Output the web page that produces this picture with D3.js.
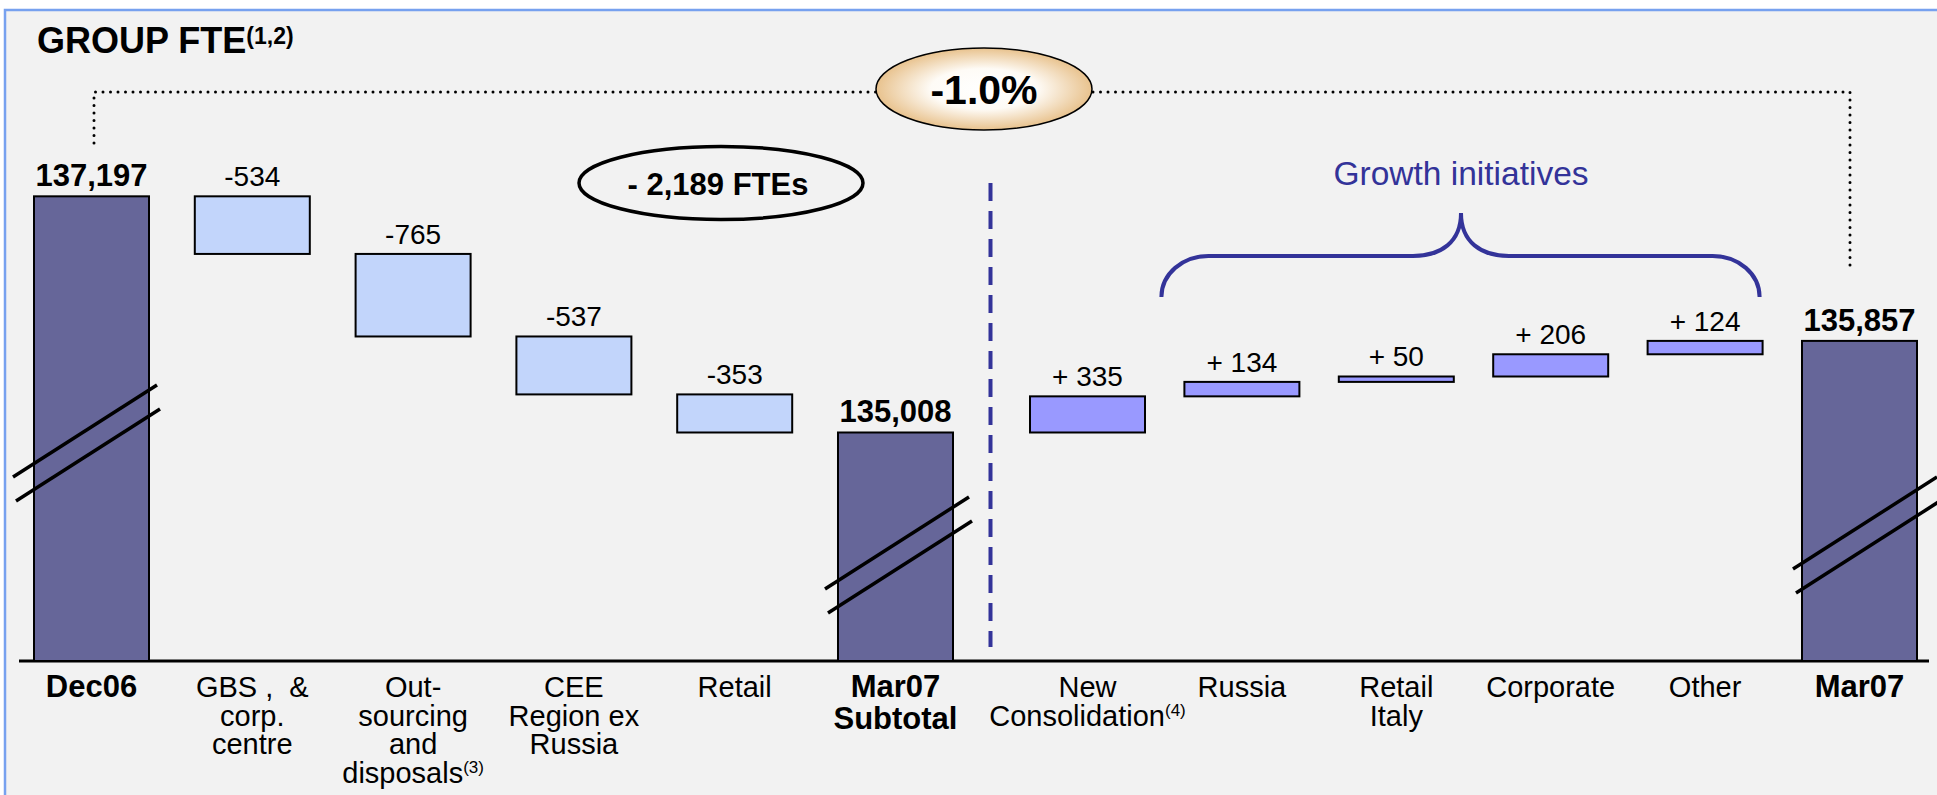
<!DOCTYPE html>
<html><head><meta charset="utf-8">
<script src="https://cdn.jsdelivr.net/npm/d3@7"></script>
<style>
body{margin:0;background:#fff;overflow:hidden;}
text{font-family:"Liberation Sans", Arial, sans-serif;}
</style>
</head><body><svg id="chart" width="1937" height="795"></svg>
<script>
// ---------- DATA ----------
const leftCategories  = ["Dec06","GBS","Outsourcing","CEE","Retail","Mar07 Subtotal"];
const rightCategories = ["New Consolidation","Russia","Retail Italy","Corporate","Other","Mar07"];
const categories = leftCategories.concat(rightCategories);
const categoryLabels = [
  ["Dec06"],
  ["GBS ,  &","corp.","centre"],
  ["Out-","sourcing","and","disposals^(3)"],
  ["CEE","Region ex","Russia"],
  ["Retail"],
  ["Mar07","Subtotal"],
  ["New","Consolidation^(4)"],
  ["Russia"],
  ["Retail","Italy"],
  ["Corporate"],
  ["Other"],
  ["Mar07"]
];
const barTypes = ["total","decrease","decrease","decrease","decrease","total",
                  "increase","increase","increase","increase","increase","total"];
const values = [137197,-534,-765,-537,-353,135008,335,134,50,206,124,135857];
const valueLabels = ["137,197","-534","-765","-537","-353","135,008",
                     "+ 335","+ 134","+ 50","+ 206","+ 124","135,857"];
const titleText = "GROUP FTE";
const titleNote = "(1,2)";
const changePct = "-1.0%";
const reductionText = "- 2,189 FTEs";
const growthText = "Growth initiatives";

// ---------- SETUP ----------
const W = 1937, H = 795;
const svg = d3.select("#chart");
const colors = {total:"#666699", decrease:"#c2d5fb", increase:"#9999ff"};
const navy = "#333399";

const defs = svg.append("defs");
const rg = defs.append("radialGradient").attr("id","pctGrad")
  .attr("cx","50%").attr("cy","50%").attr("r","55%");
rg.append("stop").attr("offset","0%").attr("stop-color","#ffffff");
rg.append("stop").attr("offset","45%").attr("stop-color","#fefbf6");
rg.append("stop").attr("offset","100%").attr("stop-color","#e4b779");

// frame
svg.append("rect").attr("x",5).attr("y",10).attr("width",W+20).attr("height",H+20)
  .attr("fill","#f2f2f2").attr("stroke","#77a1ef").attr("stroke-width",2.5);

// scales
const xL = d3.scaleBand().domain(leftCategories).range([34,953]).paddingInner(0.2848).paddingOuter(0);
const xR = d3.scaleBand().domain(rightCategories).range([1030,1917]).paddingInner(0.2552).paddingOuter(0);
const xPos = c => leftCategories.includes(c) ? xL(c) : xR(c);
const bw = c => leftCategories.includes(c) ? xL.bandwidth() : xR.bandwidth();
const xMid = c => xPos(c) + bw(c)/2;
const baseline = 661;
const y = d3.scaleLinear().domain([132890,137200]).range([baseline,196]);

// compute waterfall extents
let running = 0;
const bars = categories.map((c,i)=>{
  const t = barTypes[i], v = values[i];
  let top, bottom;
  if (t === "total") { running = v; top = v; bottom = y.domain()[0]; }
  else { const s = running; running = s + v; top = Math.max(s, running); bottom = Math.min(s, running); }
  return {cat:c, type:t, top, bottom, label:valueLabels[i], lines:categoryLabels[i]};
});

// dotted connector (drawn first)
const xDec = xMid("Dec06") + 2.5;
const xEnd = xMid("Mar07") - 9.5;
svg.append("path")
  .attr("d", `M${xDec},143 L${xDec},92 L${xEnd},92 L${xEnd},270`)
  .attr("fill","none").attr("stroke","#000").attr("stroke-width",3)
  .attr("stroke-linecap","round").attr("stroke-dasharray","0 7.5");

// axis line
svg.append("line").attr("x1",19).attr("x2",1929).attr("y1",baseline).attr("y2",baseline)
  .attr("stroke","#000").attr("stroke-width",3);

// bars
svg.append("g").selectAll("rect").data(bars).join("rect")
  .attr("x", d=>xPos(d.cat)).attr("width", d=>bw(d.cat))
  .attr("y", d=>y(d.top)).attr("height", d=>y(d.bottom)-y(d.top))
  .attr("fill", d=>colors[d.type]).attr("stroke","#000").attr("stroke-width",2);

// value labels
svg.append("g").selectAll("text").data(bars).join("text")
  .attr("x", d=>xMid(d.cat)).attr("y", d=>y(d.top)-10)
  .attr("text-anchor","middle")
  .attr("font-size", d=>d.type==="total"?31:28)
  .attr("font-weight", d=>d.type==="total"?"bold":"normal")
  .attr("fill","#000").style("white-space","pre")
  .text(d=>d.label);

// axis break marks
const breaks = [{cat:"Dec06", dx:-6.5, yc:431},{cat:"Mar07 Subtotal", dx:1.5, yc:543},{cat:"Mar07", dx:5.5, yc:523}];
breaks.forEach(b=>{
  const cx = xMid(b.cat) + b.dx;
  [0,1].forEach(k=>{
    const ox = k*3, oy = k*24;
    svg.append("line")
      .attr("x1", cx-72+ox).attr("y1", b.yc+46+oy)
      .attr("x2", cx+72+ox).attr("y2", b.yc-46+oy)
      .attr("stroke","#000").attr("stroke-width",3.5);
  });
});

// category labels
const lab = svg.append("g").selectAll("text").data(bars).join("text")
  .attr("x", d=>xMid(d.cat)).attr("y", 697)
  .attr("text-anchor","middle")
  .attr("font-size", d=>d.type==="total"?31:29)
  .attr("font-weight", d=>d.type==="total"?"bold":"normal")
  .attr("fill","#000").style("white-space","pre");
lab.each(function(d){
  const t = d3.select(this);
  const cx = xMid(d.cat);
  const lh = d.type==="total" ? 31.5 : 28.5;
  d.lines.forEach((ln,i)=>{
    const [main, sup] = ln.split("^");
    const line = t.append("tspan").attr("x", cx).attr("y", 697 + i*lh);
    if (sup) {
      line.append("tspan").text(main);
      line.append("tspan").attr("font-size",17).attr("dy",-10).text(sup);
    } else {
      line.text(main);
    }
  });
});

// divider
const xDiv = (xL.range()[1] + xR.range()[0]) / 2 - 1;
svg.append("line").attr("x1",xDiv).attr("x2",xDiv).attr("y1",183).attr("y2",647)
  .attr("stroke",navy).attr("stroke-width",4).attr("stroke-dasharray","18 10");

// title
const tt = svg.append("text").attr("x",37).attr("y",53).attr("font-size",36).attr("font-weight","bold").attr("fill","#000");
tt.append("tspan").text(titleText);
tt.append("tspan").attr("font-size",23).attr("dy",-9).text(titleNote);

// -1.0% ellipse
svg.append("ellipse").attr("cx",984).attr("cy",89).attr("rx",108).attr("ry",41)
  .attr("fill","url(#pctGrad)").attr("stroke","#000").attr("stroke-width",1.5);
svg.append("text").attr("x",984).attr("y",104).attr("text-anchor","middle")
  .attr("font-size",41).attr("font-weight","bold").attr("fill","#000").text(changePct);

// - 2,189 FTEs ellipse
svg.append("ellipse").attr("cx",721).attr("cy",183).attr("rx",142).attr("ry",36.5)
  .attr("fill","none").attr("stroke","#000").attr("stroke-width",3.5);
svg.append("text").attr("x",718).attr("y",195).attr("text-anchor","middle")
  .attr("font-size",31).attr("font-weight","bold").attr("fill","#000").style("white-space","pre").text(reductionText);

// growth initiatives brace
const bx0 = xR("Russia") - 23, bx1 = xR("Other") + xR.bandwidth() - 3;
const bmid = 1461, hy = 256, py = 213, ey = 297;
svg.append("path")
  .attr("d", `M${bx0},${ey} C${bx0},${ey-23} ${bx0+21},${hy} ${bx0+47},${hy}
              L${bmid-48},${hy} C${bmid-20},${hy} ${bmid},${hy-14} ${bmid},${py}
              C${bmid},${hy-14} ${bmid+20},${hy} ${bmid+48},${hy}
              L${bx1-47},${hy} C${bx1-21},${hy} ${bx1},${ey-23} ${bx1},${ey}`)
  .attr("fill","none").attr("stroke",navy).attr("stroke-width",4);
svg.append("text").attr("x",bmid).attr("y",185).attr("text-anchor","middle")
  .attr("font-size",33.5).attr("fill",navy).text(growthText);
</script>
</body></html>
